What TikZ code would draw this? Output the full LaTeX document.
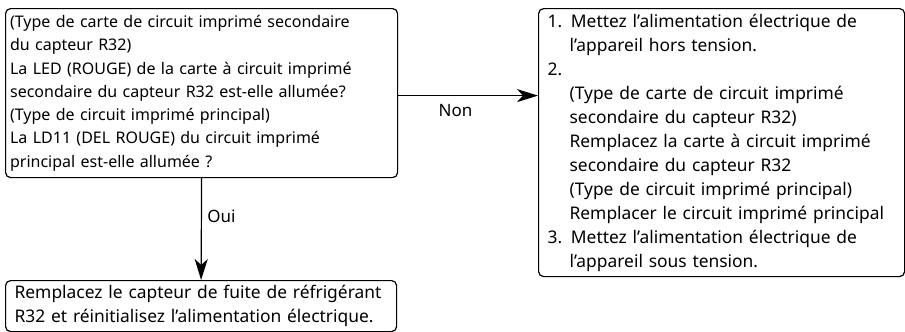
\documentclass[tikz,border=0pt]{standalone}
\usepackage{fontspec}
\setmainfont{Noto Sans}
\usetikzlibrary{arrows.meta}

\newcommand{\hang}{\hspace*{22pt}}

\begin{document}
\begin{tikzpicture}[x=1pt,y=-1pt]
        \tikzstyle{every node}=[font=\fontsize{17}{24}\selectfont]
        \tikzstyle{stepbox}=[draw, rounded corners=5pt, line width=1.2pt, anchor=north west, align=left, inner ysep=0pt]
        \tikzstyle{flow}=[draw, line width=1.2pt, -{Stealth[length=21pt,width=13pt,inset=6pt]}]
        \useasboundingbox (0,0) rectangle (905,332);
        \node[stepbox, minimum width=392pt, minimum height=169pt, text width=383pt, inner xsep=4.5pt,
            font=\fontsize{16}{23.3}\selectfont] (CheckLED) at (5,8) {%
            (Type de carte de circuit imprimé secondaire\\
            du capteur R32)\\
            La LED (ROUGE) de la carte à circuit imprimé\\
            secondaire du capteur R32 est-elle allumée?\\
            (Type de circuit imprimé principal)\\
            La LD11 (DEL ROUGE) du circuit imprimé\\
            principal est-elle allumée ?};
        \node[stepbox, minimum width=366pt, minimum height=268pt, text width=348pt, inner xsep=9pt,
            font=\fontsize{17.4}{24}\selectfont] (ReplaceBoard) at (538,8) {%
            1. Mettez l’alimentation électrique de\\
            \hang l’appareil hors tension.\\
            2.\\
            \hang (Type de carte de circuit imprimé\\
            \hang secondaire du capteur R32)\\
            \hang Remplacez la carte à circuit imprimé\\
            \hang secondaire du capteur R32\\
            \hang (Type de circuit imprimé principal)\\
            \hang Remplacer le circuit imprimé principal\\
            3. Mettez l’alimentation électrique de\\
            \hang l’appareil sous tension.};
        \node[stepbox, minimum width=391pt, minimum height=51pt, text width=373pt, inner xsep=9pt,
            font=\fontsize{17.4}{24}\selectfont] (ReplaceSensor) at (5,280) {%
            Remplacez le capteur de fuite de réfrigérant\\
            R32 et réinitialisez l’alimentation électrique.};
        \draw[flow] ([yshift=-2.5pt]CheckLED.east) -- ([yshift=-2.5pt]CheckLED.east -| ReplaceBoard.west)
            node[pos=.41, below=5pt] (NonLabel) {Non};
        \draw[flow] (CheckLED.south) -- (ReplaceSensor.north)
            node[pos=.37, right=2pt] (OuiLabel) {Oui};
    \end{tikzpicture}
\end{document}
